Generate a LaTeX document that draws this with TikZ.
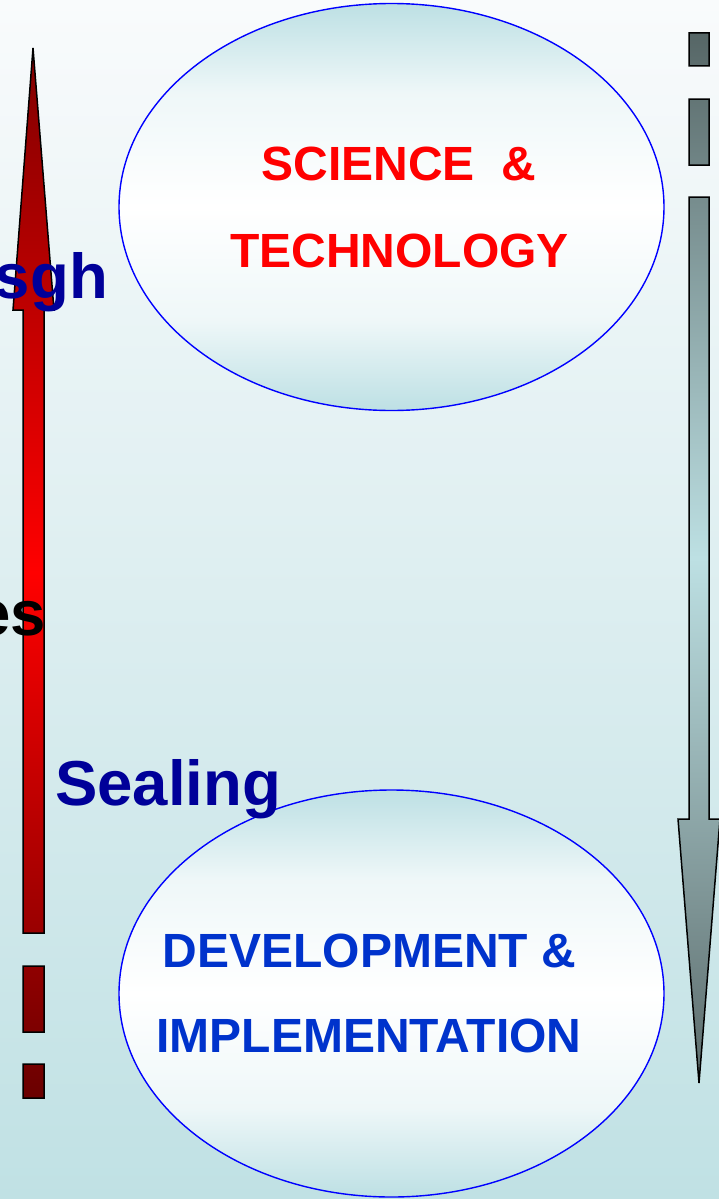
\documentclass[tikz,border=0pt]{standalone}
\usepackage{fontspec}
\setmainfont{Liberation Sans}
\usetikzlibrary{shapes.geometric}
\definecolor{bgtop}{HTML}{F9FBFC}
\definecolor{bgbot}{HTML}{C0E1E4}
\definecolor{elblue}{HTML}{BDE0E4}
\definecolor{redtop}{HTML}{800000}
\definecolor{redbot}{HTML}{6A0000}
\definecolor{graytop}{HTML}{566666}
\definecolor{graymid}{HTML}{BDE0E3}
\definecolor{graybot}{HTML}{5C6C6C}
\definecolor{txtred}{HTML}{FF0000}
\definecolor{txtblue}{HTML}{0033CC}
\definecolor{txtdark}{HTML}{000099}
\pgfdeclareverticalshading{bubshade}{100bp}{color(0bp)=(elblue); color(25bp)=(elblue); color(36bp)=(elblue!25!white); color(50bp)=(white); color(64bp)=(elblue!25!white); color(75bp)=(elblue); color(100bp)=(elblue)}
\tikzset{
  bubble/.style={ellipse, draw=blue, line width=1.4pt, inner sep=0pt,
    minimum width=545pt, minimum height=407pt, shading=bubshade},
  bigtxt/.style={inner sep=0pt, font=\fontsize{63.5}{70}\selectfont\bfseries},
  eltxt/.style={inner sep=0pt, anchor=base, font=\fontsize{48}{56}\selectfont\bfseries},
  arrowline/.style={draw=black, line width=1.5pt, line join=miter}
}
\begin{document}
\begin{tikzpicture}[x=1pt,y=-1pt]
\useasboundingbox (0,0) rectangle (719,1199);
\clip (0,0) rectangle (719,1199);
\fill[top color=bgtop, bottom color=bgbot] (0,0) rectangle (719,1199);
% ellipses
\node[bubble] (st) at (391.5,207) {};
\node[bubble] (di) at (391.5,993.5) {};
% left arrow (up)
\shadedraw[arrowline, top color=redtop, bottom color=redbot, middle color=red]
  (33,48) -- (54,310) -- (44,310) -- (44,933) -- (23,933) -- (23,310) -- (13,310) -- cycle
  (23,966) rectangle (44,1032)
  (23,1064) rectangle (44,1098);
% right arrow (down)
\shadedraw[arrowline, top color=graytop, bottom color=graybot, middle color=graymid]
  (689,33) rectangle (709,66)
  (689,99) rectangle (709,165)
  (689,197) -- (709,197) -- (709,819) -- (720,819) -- (699,1083) -- (678,819) -- (689,819) -- cycle;
% texts
\node[eltxt, text=txtred] (t1) at (399,180) {SCIENCE\ \ \&};
\node[eltxt, text=txtred] (t2) at (399.5,267) {TECHNOLOGY};
\node[eltxt, text=txtblue] (t3) at (369.5,967) {DEVELOPMENT \&};
\node[eltxt, text=txtblue] (t4) at (369,1052) {IMPLEMENTATION};
\node[bigtxt, text=txtdark, anchor=base east] (l1) at (108,298) {sgh};
\node[bigtxt, text=black, anchor=base east] (l2) at (46,635) {es};
\node[bigtxt, text=txtdark, anchor=base west] (l3) at (55,805) {Sealing};
\end{tikzpicture}
\end{document}
